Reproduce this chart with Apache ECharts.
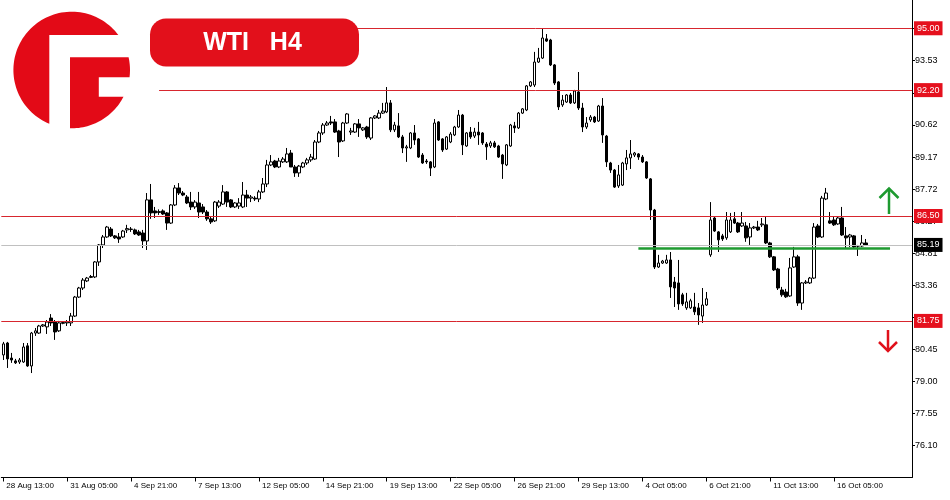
<!DOCTYPE html>
<html>
<head>
<meta charset="utf-8">
<script src="https://cdn.jsdelivr.net/npm/echarts@6.0.0/dist/echarts.min.js"></script>
<style>
html,body{margin:0;padding:0;background:#ffffff;}
#chart{width:950px;height:500px;}
</style>
</head>
<body>
<div id="chart"></div>
<script>
// ---------------- DATA ----------------
const xTickLabels = ['28 Aug 13:00','31 Aug 05:00','4 Sep 21:00','7 Sep 13:00','12 Sep 05:00','14 Sep 21:00',
  '19 Sep 13:00','22 Sep 05:00','26 Sep 21:00','29 Sep 13:00','4 Oct 05:00','6 Oct 21:00','11 Oct 13:00','16 Oct 05:00'];
const yTickValues = [76.10, 77.55, 79.00, 80.45, 81.91, 83.36, 84.81, 86.27, 87.72, 89.17, 90.62, 92.08, 93.53, 94.98];

// H4 candles: [open, close, low, high]
const ohlc = [
[80.21,80.71,79.98,80.80],[80.75,80.03,79.62,80.80],[80.07,79.98,79.85,80.30],[79.94,79.85,79.80,80.03],
[79.89,79.98,79.80,80.07],[79.89,80.57,79.85,80.75],[80.62,79.71,79.67,80.75],[79.71,81.20,79.39,81.25],
[81.20,81.30,81.07,81.43],[81.20,81.52,81.16,81.57],[81.52,81.57,81.48,81.61],[81.48,81.70,81.16,81.79],
[81.88,81.66,81.52,82.06],[81.70,81.25,80.89,81.79],[81.30,81.66,81.25,81.75],[81.64,81.68,81.60,81.72],
[81.66,81.70,81.52,81.79],[81.66,81.97,81.52,82.11],[81.97,82.83,81.93,82.88],[82.83,83.24,82.79,83.29],
[83.24,83.60,83.15,83.69],[83.56,83.69,83.51,83.74],[83.72,83.76,83.69,83.83],[83.74,84.42,83.69,84.46],
[84.42,85.19,84.24,85.23],[85.19,85.55,85.05,85.64],[85.55,86.00,85.51,86.05],[85.91,85.60,85.55,86.00],
[85.60,85.51,85.46,85.64],[85.55,85.46,85.28,85.73],[85.55,85.82,85.51,85.87],[85.87,85.93,85.73,86.10],
[85.89,85.91,85.78,86.00],[85.87,85.69,85.64,85.93],[85.78,85.64,85.60,85.87],[85.73,85.37,85.05,85.87],
[85.37,87.23,84.96,87.54],[87.23,86.64,86.37,87.95],[86.73,86.64,86.41,86.91],[86.66,86.70,86.55,86.80],
[86.73,86.59,86.55,86.80],[86.64,86.18,85.87,86.68],[86.18,87.00,86.14,87.04],[87.00,87.77,86.95,87.90],
[87.77,87.54,87.45,87.99],[87.54,87.45,87.40,87.63],[87.36,87.09,87.04,87.45],[87.13,86.91,86.77,87.59],
[86.91,87.13,86.82,87.22],[87.09,86.68,86.41,87.59],[86.91,86.68,86.59,87.04],[86.68,86.37,86.28,86.77],
[86.37,86.23,86.14,86.46],[86.28,87.13,86.23,87.18],[86.95,87.13,86.86,87.22],[87.04,87.59,87.00,87.90],
[87.59,87.13,86.91,87.63],[87.23,86.91,86.86,87.27],[86.91,87.09,86.86,87.13],[86.95,87.09,86.82,87.31],
[86.91,87.45,86.86,88.04],[87.45,87.31,86.91,87.68],[87.31,87.36,87.13,87.45],[87.31,87.27,87.18,87.40],
[87.27,87.59,87.13,87.68],[87.59,87.95,87.54,88.22],[87.95,88.81,87.81,89.04],[88.81,88.95,88.76,89.26],
[88.99,88.72,88.67,89.04],[88.72,88.99,88.67,89.13],[88.95,89.08,88.90,89.17],[88.95,89.31,88.90,89.58],
[89.35,88.72,88.72,89.49],[88.72,88.45,88.27,88.81],[88.45,88.76,88.27,88.81],[88.72,88.90,88.67,88.95],
[88.90,89.04,88.81,89.13],[89.04,89.17,88.95,89.31],[89.08,89.85,89.04,89.94],[89.85,90.26,89.80,90.35],
[90.26,90.62,90.17,90.71],[90.62,90.71,90.58,90.80],[90.76,90.71,90.62,91.03],[90.76,90.30,90.26,90.89],
[90.35,89.85,89.17,90.40],[89.90,90.71,89.85,90.76],[90.71,91.12,90.67,91.16],[90.30,90.35,90.17,90.49],
[90.30,90.67,90.26,90.71],[90.67,90.49,90.08,90.89],[90.40,90.49,90.35,90.53],[90.53,90.08,89.99,90.58],
[90.03,90.94,89.94,90.98],[90.94,91.03,90.89,91.07],[90.94,91.16,90.89,91.30],[91.16,91.25,91.12,91.62],
[91.21,91.62,91.16,92.34],[91.62,90.40,90.30,91.75],[90.40,90.62,90.30,90.76],[90.58,90.08,90.03,91.16],
[90.08,89.58,89.35,90.17],[89.58,89.63,88.95,89.72],[89.58,90.26,89.53,90.30],[90.26,89.94,89.72,90.62],
[89.99,89.17,89.13,90.03],[89.26,88.90,88.86,89.35],[88.99,88.95,88.86,89.08],[88.95,88.67,88.31,88.99],
[88.72,90.71,88.67,90.89],[90.76,89.94,89.90,90.80],[89.99,89.49,89.40,90.03],[89.53,90.08,89.49,90.12],
[89.85,90.21,89.80,90.30],[90.17,90.53,90.12,90.58],[90.53,91.07,90.49,91.30],[91.07,89.72,89.26,91.12],
[89.67,90.26,89.63,90.30],[90.30,90.08,89.99,90.53],[90.12,90.30,90.03,90.49],[90.30,90.17,89.72,90.76],
[90.26,89.81,89.72,90.30],[89.76,89.63,89.04,89.85],[89.67,89.81,89.58,89.90],[89.81,89.63,89.58,89.90],
[89.67,89.17,89.13,89.72],[89.26,88.86,88.18,89.31],[88.81,89.72,88.76,89.76],[89.67,90.62,89.63,90.67],
[90.58,90.49,90.26,90.76],[90.49,91.16,90.44,91.21],[91.16,91.35,91.12,91.39],[91.30,92.39,91.25,92.43],
[92.39,92.57,92.34,92.61],[92.43,93.47,92.34,93.93],[93.47,93.65,93.43,94.11],[93.65,94.56,93.61,94.97],
[94.52,94.42,94.38,94.74],[94.47,93.34,93.29,94.52],[93.34,92.52,92.43,93.38],[92.57,91.44,91.30,92.61],
[91.53,91.75,91.44,91.98],[91.66,91.98,91.62,92.02],[91.98,91.62,91.57,92.07],[91.62,92.16,91.57,92.21],
[92.12,91.39,91.30,93.02],[91.39,90.53,90.30,91.62],[90.53,90.71,90.44,90.98],[90.85,90.98,90.76,91.07],
[90.98,90.76,90.71,91.03],[90.80,91.48,90.76,91.53],[91.48,90.17,89.81,91.84],[90.12,88.95,88.72,90.17],
[88.90,88.58,88.45,88.95],[88.58,87.81,87.77,88.63],[87.86,88.36,87.77,88.81],[87.90,88.90,87.86,88.95],
[88.86,89.13,88.58,89.49],[89.13,89.31,88.63,89.94],[89.26,89.35,89.17,89.40],[89.31,89.17,89.04,89.35],
[89.17,88.95,88.90,89.26],[88.95,88.22,88.18,88.99],[88.18,86.77,86.32,88.22],[86.77,84.19,84.10,86.82],
[84.19,84.37,84.15,84.74],[84.37,84.46,84.33,84.51],[84.37,84.51,84.33,84.74],[84.51,83.29,82.79,84.87],
[83.51,83.24,82.38,83.74],[83.47,82.52,82.25,84.51],[82.93,82.52,82.43,83.02],[82.34,82.61,82.25,83.02],
[82.34,82.66,82.29,82.75],[82.38,82.16,82.02,83.02],[82.34,82.02,81.57,82.56],[81.97,82.47,81.66,83.24],
[82.47,82.75,82.43,83.06],[84.74,86.32,84.65,87.13],[86.41,85.82,85.78,86.46],[85.78,85.42,84.87,85.82],
[85.60,85.46,85.37,85.69],[85.51,86.32,85.42,86.68],[85.78,86.32,85.73,86.64],[86.37,86.18,86.14,86.68],
[86.18,85.78,85.73,86.23],[86.05,86.18,86.00,86.68],[86.05,85.51,85.33,86.23],[85.55,85.96,85.19,86.18],
[85.96,86.00,85.91,86.05],[86.00,85.87,85.82,86.28],[86.10,86.14,86.00,86.41],[86.10,85.28,85.23,86.46],
[85.28,84.65,84.60,85.33],[84.65,84.06,84.01,84.69],[84.10,83.24,83.15,84.15],[83.15,82.93,82.84,83.29],
[83.06,82.84,82.79,83.20],[82.88,84.15,82.84,84.60],[84.19,84.65,84.15,85.10],[84.65,82.56,82.43,84.74],
[82.56,83.47,82.25,83.51],[83.47,83.51,83.42,83.60],[83.47,83.69,83.42,83.74],[83.69,86.00,83.65,86.18],
[86.05,85.55,85.51,86.14],[85.55,87.31,85.51,87.41],[87.27,87.54,87.22,87.77],[86.28,86.18,86.14,86.68],
[86.32,86.10,86.05,86.46],[86.14,86.41,86.10,86.46],[86.41,85.64,85.60,86.91],[85.60,85.51,85.05,86.00],
[85.55,85.64,85.10,85.69],[85.60,85.10,85.05,85.64],[85.14,85.14,84.69,85.19],[85.14,85.28,85.10,85.64],
[85.28,85.19,85.14,85.46]
];

// Horizontal levels
const upperLevels = [95.00, 92.20];        // drawn from upperLevelStart to the price scale
const upperLevelStart = '6 Sep 01:00';
const fullLevels = [86.50, 81.75];         // drawn across the whole chart
const lastPrice = 85.19;
const supportLevel = 85.05;                // green line
const supportFrom = '4 Oct 01:00';
const supportTo = '18 Oct 13:00';
const totalSlots = 228;                    // candle slots on the time axis (incl. empty space on the right)

// ---------------- BUILD ----------------
const months = ['Jan','Feb','Mar','Apr','May','Jun','Jul','Aug','Sep','Oct','Nov','Dec'];
function buildCategories(n) {
  const out = [];
  let t = Date.UTC(2023, 7, 28, 13);
  while (out.length < n) {
    const d = new Date(t);
    const wd = d.getUTCDay();
    if (wd !== 0 && wd !== 6) {
      const hh = String(d.getUTCHours()).padStart(2, '0');
      out.push(d.getUTCDate() + ' ' + months[d.getUTCMonth()] + ' ' + hh + ':00');
    }
    t += 4 * 3600 * 1000;
  }
  return out;
}
const categories = buildCategories(totalSlots);
const isTick = (idx, val) => xTickLabels.indexOf(val) >= 0;

const RED = '#d7262e';
const FONT = '"Liberation Sans", Arial, sans-serif';

function boxLabel(bg, v) {
  return {
    show: true, position: 'end', distance: 2,
    formatter: v.toFixed(2),
    color: '#ffffff', backgroundColor: bg, padding: [2, 3, 2, 3],
    fontSize: 9, lineHeight: 10, fontFamily: FONT
  };
}

const markData = [];
upperLevels.forEach(v => {
  markData.push([
    { xAxis: upperLevelStart, yAxis: v, lineStyle: { color: RED, width: 1, type: 'solid' }, label: boxLabel('#e5101d', v) },
    { x: 912, yAxis: v }
  ]);
});
fullLevels.forEach(v => {
  markData.push({ yAxis: v, lineStyle: { color: RED, width: 1, type: 'solid' }, label: boxLabel('#e5101d', v) });
});
markData.push({ yAxis: lastPrice, lineStyle: { color: '#c0c0c0', width: 1, type: 'solid' }, label: boxLabel('#000000', lastPrice) });
markData.push([
  { xAxis: supportFrom, yAxis: supportLevel, lineStyle: { color: '#1e9a30', width: 2.5, type: 'solid' }, label: { show: false } },
  { xAxis: supportTo, yAxis: supportLevel }
]);

// ---- logo geometry (circle with an "F" cut out) ----
const LC = { cx: 71.7, cy: 70, r: 58.3 };
function circX(y, side) { return LC.cx + side * Math.sqrt(LC.r * LC.r - (y - LC.cy) * (y - LC.cy)); }
function circY(x, side) { return LC.cy + side * Math.sqrt(LC.r * LC.r - (x - LC.cx) * (x - LC.cx)); }
function arc(a0, a1, steps) {
  const pts = [];
  for (let k = 0; k <= steps; k++) {
    const a = a0 + (a1 - a0) * k / steps;
    pts.push([LC.cx + LC.r * Math.cos(a), LC.cy + LC.r * Math.sin(a)]);
  }
  return pts;
}
function ang(x, y) { return Math.atan2(y - LC.cy, x - LC.cx); }
const gapTop = 35, blockTop = 57.3, slotL = 49.3, slotR = 70, notchX = 98.8, notchT = 77.3, notchB = 96.7;
// piece A: top band + left part
const pA = [];
{
  const sx = circX(gapTop, 1), by = circY(slotL, 1);
  let a0 = ang(sx, gapTop); let a1 = ang(slotL, by);
  // go counter-clockwise (decreasing angle) over the top and down the left side
  if (a1 > a0) a1 -= 2 * Math.PI;
  pA.push(...arc(a0, a1, 80));
  pA.push([slotL, gapTop]);
}
// piece B: right block with notch
const pB = [];
{
  pB.push([slotR, blockTop]);
  const x1 = circX(blockTop, 1);
  pB.push(...arc(ang(x1, blockTop), ang(circX(notchT, 1), notchT), 6));
  pB.push([notchX, notchT], [notchX, notchB]);
  const x2 = circX(notchB, 1), yb = circY(slotR, 1);
  pB.push(...arc(ang(x2, notchB), ang(slotR, yb), 30));
}

const chart = echarts.init(document.getElementById('chart'), null, { renderer: 'canvas' });
chart.setOption({
  animation: false,
  backgroundColor: '#ffffff',
  textStyle: { fontFamily: FONT },
  grid: { left: 1.3, top: 0, width: 910.7, height: 477.5, outerBoundsMode: 'none', containLabel: false },
  xAxis: {
    type: 'category', data: categories, boundaryGap: true,
    axisLine: { show: true, onZero: false, lineStyle: { color: '#000', width: 1 } },
    axisTick: { show: true, alignWithLabel: true, length: 4, interval: isTick, lineStyle: { color: '#000' } },
    axisLabel: { interval: isTick, align: 'left', color: '#000', fontSize: 8, margin: 4, padding: [0, 0, 0, 3], fontFamily: FONT },
    splitLine: { show: false }
  },
  yAxis: {
    type: 'value', position: 'right', min: 74.66, max: 96.28,
    axisLine: { show: true, onZero: false, lineStyle: { color: '#000', width: 1 } },
    axisTick: { show: true, length: 3, customValues: yTickValues, lineStyle: { color: '#000' } },
    axisLabel: { color: '#000', fontSize: 9, margin: 3, customValues: yTickValues, formatter: v => v.toFixed(2), fontFamily: FONT },
    splitLine: { show: false }
  },
  series: [{
    type: 'candlestick',
    data: ohlc,
    barWidth: 3,
    clip: false,
    itemStyle: { color: '#ffffff', color0: '#000000', borderColor: '#000000', borderColor0: '#000000', borderWidth: 1 },
    markLine: { silent: true, symbol: ['none', 'none'], animation: false, data: markData }
  }],
  graphic: [
    // logo
    { type: 'polygon', z: 100, shape: { points: pA }, style: { fill: '#e30a17' } },
    { type: 'polygon', z: 100, shape: { points: pB }, style: { fill: '#e30a17' } },
    // title pill
    { type: 'rect', z: 100, shape: { x: 150, y: 18.5, width: 209, height: 48, r: 16 }, style: { fill: '#e2101b' } },
    { type: 'text', z: 101, x: 252.5, y: 43, style: { text: 'WTI   H4', fill: '#ffffff', font: 'bold 25px "Liberation Sans", Arial, sans-serif', textAlign: 'center', textVerticalAlign: 'middle' } },
    // arrows
    { type: 'polyline', z: 100, shape: { points: [[889, 214], [889, 188.5]] }, style: { stroke: '#1e9a30', lineWidth: 2.5, fill: null } },
    { type: 'polyline', z: 100, shape: { points: [[879.5, 198], [889, 188.5], [898.5, 198]] }, style: { stroke: '#1e9a30', lineWidth: 2.5, fill: null } },
    { type: 'polyline', z: 100, shape: { points: [[888, 330], [888, 351]] }, style: { stroke: '#e0101a', lineWidth: 2.5, fill: null } },
    { type: 'polyline', z: 100, shape: { points: [[879, 342], [888, 351], [897, 342]] }, style: { stroke: '#e0101a', lineWidth: 2.5, fill: null } }
  ]
});
</script>
</body>
</html>
